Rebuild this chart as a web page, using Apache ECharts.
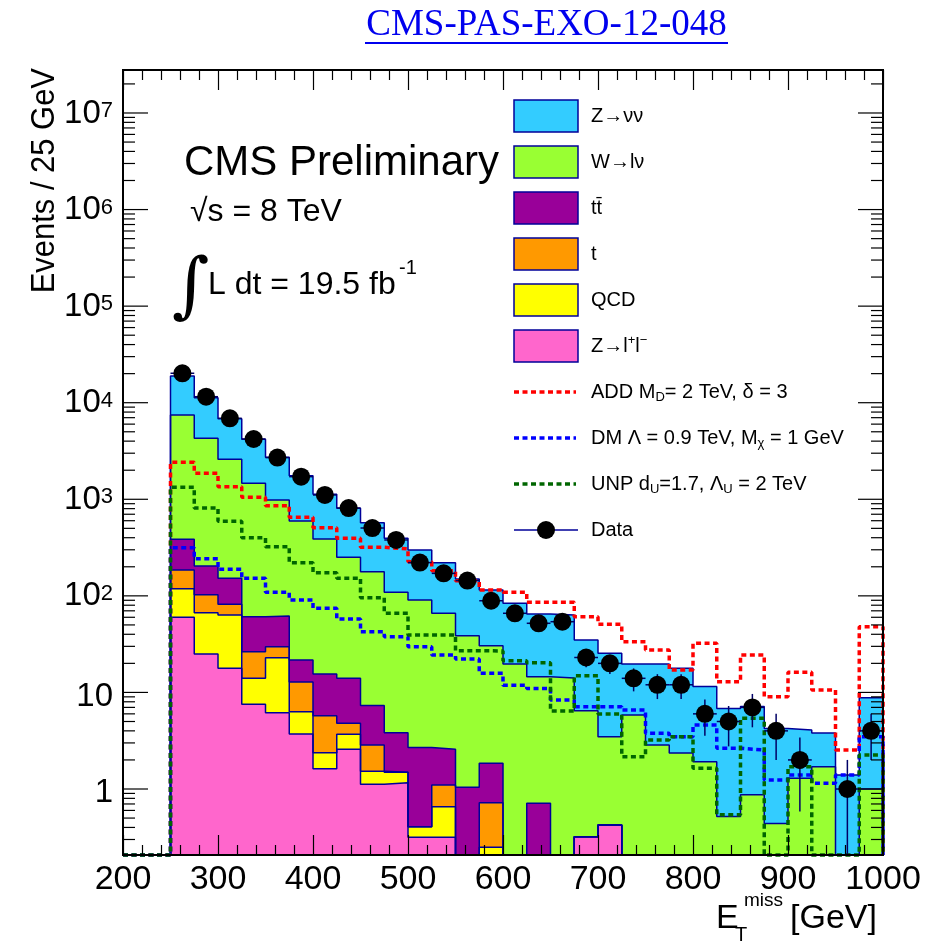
<!DOCTYPE html>
<html>
<head>
<meta charset="utf-8">
<script src="https://cdn.jsdelivr.net/npm/echarts@6.0.0/dist/echarts.min.js"></script>
<style>
html,body{margin:0;padding:0;background:#ffffff;}
#chart{width:926px;height:942px;}
</style>
</head>
<body>
<div id="chart"></div>
<script>
// ---------------- data ----------------
const binEdges = [250,275,300,325,350,375,400,425,450,475,500,525,550,575,600,625,650,675,700,725,750,775,800,825,850,875,900,925,950,975,1000];

// background processes, events per 25 GeV bin
const zvv       = [11450,6990,4240,2717,1738,1159,738,556,394,286,208,154.5,110.8,84.5,64,50.4,49.3,28.4,21.9,13.9,16.8,15.4,9.6,6.3,6.3,3.8,2.8,2.1,1.4,7.8];
const wlv       = [7078,4077,2443,1403,921,574,372.5,236.8,170.6,105.1,87.9,63.4,37.7,28.65,19.7,13.84,14.1,6.15,3.06,5.84,2.86,2.36,1.92,0.52,0.87,0.44,1.29,1.70,0,1.0];
const ttbar     = [199.9,101.0,70.2,34.4,32.1,8.9,9.76,9.21,4.46,2.34,2.29,1.48,1.04,1.13,0,0.71,0,0,0,0,0,0,0,0,0,0,0,0,0,0];
const singleTop = [66.7,35.9,18.4,12.4,6.9,6.48,3.36,1.10,1.33,0,0,0.444,0,0.472,0,0,0,0,0,0,0,0,0,0,0,0,0,0,0,0];
const qcd       = [58.6,41.9,45.6,6.46,16.7,2.61,0.76,1.11,0.41,0.33,0.091,0.34,0,0.249,0,0,0,0,0,0,0,0,0,0,0,0,0,0,0,0];
const zll       = [60.0,25.0,17.8,7.54,6.17,3.71,1.62,2.58,1.12,1.16,0.316,0.316,0,0,0,0,0,0.321,0.424,0,0,0,0,0,0,0,0,0,0,0];

// signal models
const addSignal = [2415,1858,1349,1049,858,651,508,394,318,306,226,182,143.5,115,108.9,85.8,85.8,60.8,50.8,33.5,27.5,17.1,32.3,12.9,24.4,9.0,16.2,10.6,2.53,47.9];
const dmSignal  = [315,242.6,188.4,152,108.9,90.6,74.3,57.6,42.6,37.8,29.8,24.4,22.2,15.8,11.9,11.0,8.35,7.12,7.12,6.58,3.77,3.48,4.6,2.64,2.53,1.24,1.40,1.15,1.40,3.48];
const unpSignal = [1331,812,592,400,323,220.5,173.7,152,95.7,66,39.3,39.3,27.0,26.9,21.3,20.3,6.42,14.9,5.98,2.16,3.22,3.48,1.64,0.54,5.40,0,1.70,0,0,2.25];

// observed data (events)
const dataCounts = [20180,11540,6900,4210,2700,1714,1108,812,504,379,221,171,144,89,66,52,54,23,20,14,12,12,6,5,7,4,2,0,1,4];

// axis ranges
const X_RANGE = [200, 1000];
const Y_MIN = 0.2073, Y_MAX = 2.787e7;

// ---------------- helpers ----------------
const FONT = 'Liberation Sans, Arial, Helvetica, sans-serif';
const OUTLINE = '#000099';
const nb = binEdges.length - 1;
function clampY(v){ return Math.min(Y_MAX, Math.max(Y_MIN, v)); }
function stepPoints(vals){
  const pts = [[X_RANGE[0], Y_MIN], [binEdges[0], Y_MIN]];
  for (let i = 0; i < nb; i++) {
    const y = clampY(vals[i]);
    pts.push([binEdges[i], y], [binEdges[i+1], y]);
  }
  pts.push([binEdges[nb], Y_MIN]);
  return pts;
}

// stacked cumulative tops (bottom -> top)
const bottomUp = [
  {name:'Z→l⁺l⁻', vals: zll,       color:'#ff66cc'},
  {name:'QCD',    vals: qcd,       color:'#ffff00'},
  {name:'t',      vals: singleTop, color:'#ff9900'},
  {name:'tt̄',     vals: ttbar,     color:'#990099'},
  {name:'W→lν',   vals: wlv,       color:'#99ff33'},
  {name:'Z→νν',   vals: zvv,       color:'#33ccff'}
];
let running = new Array(nb).fill(0);
bottomUp.forEach(L => {
  running = running.map((r, i) => r + L.vals[i]);
  L.cum = running.slice();
});

const series = [];
// draw from the total downwards (like THStack)
bottomUp.slice().reverse().forEach(L => {
  series.push({
    type: 'line', name: L.name, data: stepPoints(L.cum),
    symbol: 'none', showSymbol: false, silent: true, animation: false,
    lineStyle: {color: OUTLINE, width: 1.5},
    areaStyle: {color: L.color, opacity: 1, origin: 'start'},
    emphasis: {disabled: true}, z: 2
  });
});

// signal model dashed histograms
[
  {name:'ADD', vals: addSignal, color:'#ff0000'},
  {name:'DM',  vals: dmSignal,  color:'#0000ff'},
  {name:'UNP', vals: unpSignal, color:'#006600'}
].forEach(M => {
  series.push({
    type: 'line', name: M.name, data: stepPoints(M.vals),
    symbol: 'none', showSymbol: false, silent: true, animation: false, clip: false,
    lineStyle: {color: M.color, width: 3.5, type: [5, 3.5], cap: 'butt'},
    emphasis: {disabled: true}, z: 3
  });
});

// data error bars
const dataItems = [];
for (let i = 0; i < nb; i++) {
  if (dataCounts[i] > 0) dataItems.push([(binEdges[i] + binEdges[i+1]) / 2, dataCounts[i], binEdges[i], binEdges[i+1]]);
}
series.push({
  type: 'custom', name: 'Data errors', data: dataItems, silent: true, animation: false, z: 4,
  renderItem: function(params, api){
    const xc = api.value(0), n = api.value(1), lo = api.value(2), hi = api.value(3);
    const e = Math.sqrt(n);
    const pTop = api.coord([xc, clampY(n + e)]);
    const pBot = api.coord([xc, clampY(n - e)]);
    const pL = api.coord([lo, n]);
    const pR = api.coord([hi, n]);
    const st = {stroke: '#000066', lineWidth: 1.5};
    return {type: 'group', children: [
      {type: 'line', shape: {x1: pTop[0], y1: pTop[1], x2: pBot[0], y2: pBot[1]}, style: st},
      {type: 'line', shape: {x1: pL[0], y1: pL[1], x2: pR[0], y2: pR[1]}, style: st}
    ]};
  }
});
series.push({
  type: 'scatter', name: 'Data', data: dataItems.map(d => [d[0], d[1]]),
  symbol: 'circle', symbolSize: 18, itemStyle: {color: '#000000', opacity: 1},
  silent: true, animation: false, z: 5
});

// y ticks (log decades + minor) on both sides
const yTicks = [];
for (let e = -1; e <= 7; e++) for (let k = 1; k <= 9; k++) {
  const v = k * Math.pow(10, e);
  if (v >= Y_MIN && v <= Y_MAX) yTicks.push([X_RANGE[0], v, k === 1 ? 1 : 0]);
}
series.push({
  type: 'custom', name: 'yticks', data: yTicks, silent: true, animation: false, z: 10,
  renderItem: function(params, api){
    const v = api.value(1), major = api.value(2);
    const pL = api.coord([X_RANGE[0], v]);
    const pR = api.coord([X_RANGE[1], v]);
    const len = major ? 25 : 12;
    const st = {stroke: '#000', lineWidth: 1.2};
    return {type: 'group', children: [
      {type: 'line', shape: {x1: pL[0], y1: pL[1], x2: pL[0] + len, y2: pL[1]}, style: st},
      {type: 'line', shape: {x1: pR[0], y1: pR[1], x2: pR[0] - len, y2: pR[1]}, style: st}
    ]};
  }
});

// ---------------- legend & texts (graphic) ----------------
const legendRich = {
  sub: {fontSize: 13, lineHeight: 13, padding: [11,0,0,0], verticalAlign: 'bottom', fontFamily: FONT, fill: '#000'},
  sup: {fontSize: 13, lineHeight: 13, verticalAlign: 'top', fontFamily: FONT, fill: '#000'}
};
const legendRows = [
  {kind: 'box', color: '#33ccff', text: 'Z→νν'},
  {kind: 'box', color: '#99ff33', text: 'W→lν'},
  {kind: 'box', color: '#990099', text: 'tt\u0304'},
  {kind: 'box', color: '#ff9900', text: 't'},
  {kind: 'box', color: '#ffff00', text: 'QCD'},
  {kind: 'box', color: '#ff66cc', text: 'Z→l{sup|+}l{sup|−}'},
  {kind: 'dash', color: '#ff0000', text: 'ADD M{sub|D}= 2 TeV, δ = 3'},
  {kind: 'dash', color: '#0000ff', text: 'DM Λ = 0.9 TeV, M{sub|χ} = 1 GeV'},
  {kind: 'dash', color: '#006600', text: 'UNP d{sub|U}=1.7, Λ{sub|U} = 2 TeV'},
  {kind: 'data', color: '#000000', text: 'Data'}
];
const graphics = [];
legendRows.forEach((r, k) => {
  const cy = 116 + 46 * k;
  if (r.kind === 'box') {
    graphics.push({type: 'rect', z: 20, shape: {x: 514, y: cy - 16, width: 64, height: 32}, style: {fill: r.color, stroke: OUTLINE, lineWidth: 1.5}});
  } else if (r.kind === 'dash') {
    graphics.push({type: 'line', z: 20, shape: {x1: 514, y1: cy, x2: 576, y2: cy}, style: {stroke: r.color, lineWidth: 3.5, lineDash: [5, 3.5]}});
  } else {
    graphics.push({type: 'line', z: 20, shape: {x1: 514, y1: cy, x2: 578, y2: cy}, style: {stroke: OUTLINE, lineWidth: 1.5}});
    graphics.push({type: 'circle', z: 21, shape: {cx: 546, cy: cy, r: 9}, style: {fill: '#000'}});
  }
  graphics.push({type: 'text', z: 20, x: 591, y: cy, style: {
    text: r.text, fontSize: 20, lineHeight: 24, fontFamily: FONT, fill: '#000',
    align: 'left', verticalAlign: 'middle', textAlign: 'left', textVerticalAlign: 'middle', rich: legendRich}});
});

function txt(x, y, text, size, opts){
  return Object.assign({type: 'text', z: 20, x: x, y: y, style: Object.assign({
    text: text, fontSize: size, fontFamily: FONT, fill: '#000',
    align: 'left', verticalAlign: 'middle', textAlign: 'left', textVerticalAlign: 'middle'}, (opts && opts.style) || {})},
    (opts && opts.el) || {});
}
// header
graphics.push(txt(546.5, 25, 'CMS-PAS-EXO-12-048', 37, {style: {fontFamily: 'Liberation Serif, Times New Roman, serif', fill: '#0000ee', align: 'center', textAlign: 'center'}}));
graphics.push({type: 'line', z: 20, shape: {x1: 365, y1: 43, x2: 728, y2: 43}, style: {stroke: '#0000ee', lineWidth: 2}});
// CMS labels
graphics.push(txt(184, 163, 'CMS Preliminary', 42));
graphics.push(txt(190, 212, '√s = 8 TeV', 32));
graphics.push(txt(172, 290, '∫', 72, {style: {fontFamily: 'DejaVu Serif, serif'}}));
graphics.push(txt(208, 285, 'L dt = 19.5 fb', 32));
graphics.push(txt(399, 268, '-1', 20));
// axis titles
graphics.push(txt(45, 68, 'Events / 25 GeV', 34, {style: {align: 'right', textAlign: 'right'}, el: {rotation: Math.PI / 2, scaleX: 0.91}}));
graphics.push(txt(716, 919, 'E', 34));
graphics.push(txt(735, 935, 'T', 20));
graphics.push(txt(744, 901, 'miss', 19));
graphics.push(txt(790, 919, '[GeV]', 34));

// ---------------- chart ----------------
const chart = echarts.init(document.getElementById('chart'), null, {renderer: 'canvas'});
const xAxisCommon = {
  type: 'value', min: X_RANGE[0], max: X_RANGE[1], interval: 100, z: 10,
  axisLine: {show: true, lineStyle: {color: '#000', width: 2}},
  axisTick: {show: true, inside: true, length: 20, lineStyle: {color: '#000', width: 1.2}},
  minorTick: {show: true, splitNumber: 5, length: 10, lineStyle: {color: '#000', width: 1.2}},
  splitLine: {show: false}, minorSplitLine: {show: false}
};
chart.setOption({
  animation: false,
  backgroundColor: '#ffffff',
  grid: {left: 123, top: 70, width: 760, height: 785, show: true, borderColor: '#000', borderWidth: 2, z: 10, containLabel: false},
  xAxis: [
    Object.assign({}, xAxisCommon, {position: 'bottom',
      axisLabel: {show: true, fontSize: 34, fontFamily: FONT, color: '#000', margin: 8,
        formatter: function(v){ return String(Math.round(v)); }}}),
    Object.assign({}, xAxisCommon, {position: 'top', axisLabel: {show: false}})
  ],
  yAxis: {
    type: 'log', logBase: 10, min: Y_MIN, max: Y_MAX, splitNumber: 8, z: 10,
    axisLine: {show: true, lineStyle: {color: '#000', width: 2}},
    axisTick: {show: false}, splitLine: {show: false},
    axisLabel: {
      show: true, margin: 10, color: '#000', fontFamily: FONT,
      formatter: function(v){
        const l = Math.log10(v), e = Math.round(l);
        if (Math.abs(l - e) > 1e-6) return '';
        if (e === 0) return '{n|1}';
        if (e === 1) return '{n|10}';
        return '{b|10}{s|' + e + '}';
      },
      rich: {
        n: {fontSize: 33, lineHeight: 34, padding: [8,0,0,0], fontFamily: FONT, color: '#000'},
        b: {fontSize: 33, lineHeight: 34, padding: [12,0,0,0], verticalAlign: 'bottom', fontFamily: FONT, color: '#000'},
        s: {fontSize: 22, lineHeight: 22, padding: [4,0,0,0], verticalAlign: 'top', fontFamily: FONT, color: '#000'}
      }
    }
  },
  series: series,
  graphic: graphics
});
</script>
</body>
</html>
